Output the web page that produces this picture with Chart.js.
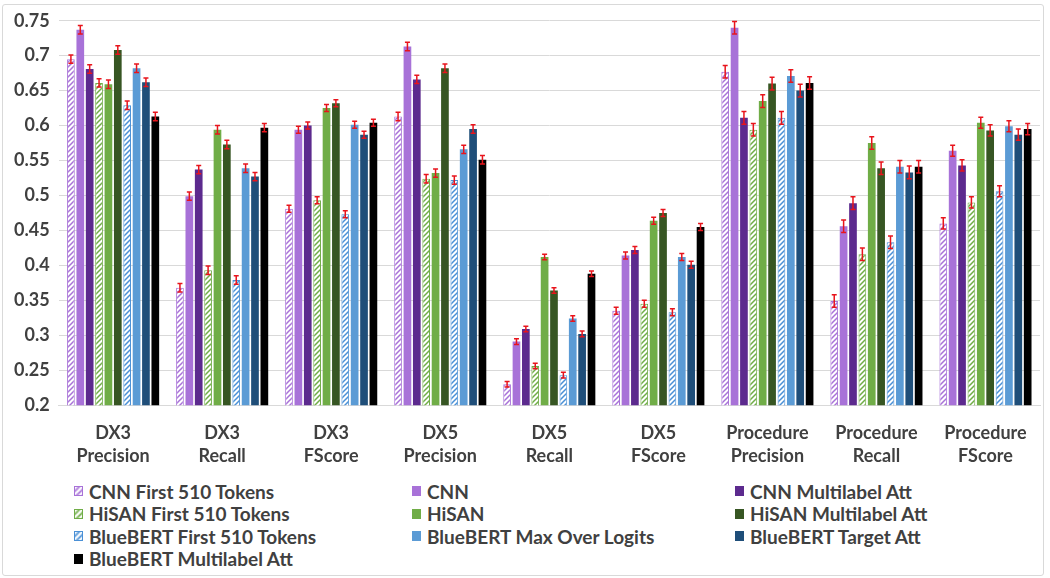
<!DOCTYPE html>
<html>
<head>
<meta charset="utf-8">
<script src="https://cdn.jsdelivr.net/npm/chart.js@4.4.0/dist/chart.umd.min.js"></script>
<style>
  body { margin: 0; background: #fff; }
  #wrap { position: relative; width: 1050px; height: 578px; }
  #frame { position: absolute; left: 2px; top: 4px; width: 1040px; height: 570px; border: 1px solid #d9d9d9; border-radius: 3px; }
  #chartbox { position: absolute; left: 0; top: 0; width: 1050px; height: 476px; }
  #legend { position: absolute; left: 74px; top: 480px; width: 960px;
    display: grid; grid-template-columns: 338px 323px 300px; row-gap: 0px;
    font-family: Lato, "Open Sans", sans-serif;
    font-weight: bold; font-size: 19px; color: #404040; }
  .item { display: flex; align-items: center; height: 22.5px; white-space: nowrap; }
  .box { width: 9px; height: 10px; margin-right: 6px; background-size: 6px 6px; }
</style>
</head>
<body>
<div id="wrap">
  <div id="frame"></div>
  <div id="chartbox"><canvas id="mychart"></canvas></div>
  <div id="legend"></div>
</div>
<script>
var categories = [['DX3','Precision'], ['DX3','Recall'], ['DX3','FScore'],
                  ['DX5','Precision'], ['DX5','Recall'], ['DX5','FScore'],
                  ['Procedure','Precision'], ['Procedure','Recall'], ['Procedure','FScore']];

var cnnFirst      = [0.695, 0.368, 0.481, 0.613, 0.230, 0.335, 0.677, 0.349, 0.460];
var cnn           = [0.737, 0.499, 0.594, 0.713, 0.291, 0.414, 0.740, 0.456, 0.564];
var cnnMulti      = [0.681, 0.537, 0.600, 0.666, 0.309, 0.422, 0.611, 0.489, 0.543];
var hisanFirst    = [0.661, 0.393, 0.493, 0.524, 0.256, 0.345, 0.594, 0.416, 0.490];
var hisan         = [0.659, 0.594, 0.625, 0.532, 0.412, 0.464, 0.635, 0.575, 0.604];
var hisanMulti    = [0.708, 0.573, 0.632, 0.682, 0.364, 0.475, 0.660, 0.539, 0.593];
var bertFirst     = [0.629, 0.379, 0.473, 0.522, 0.243, 0.333, 0.611, 0.433, 0.506];
var bertMax       = [0.682, 0.539, 0.601, 0.566, 0.324, 0.412, 0.671, 0.541, 0.599];
var bertTarget    = [0.662, 0.527, 0.587, 0.595, 0.302, 0.401, 0.650, 0.533, 0.587];
var bertMulti     = [0.613, 0.597, 0.604, 0.551, 0.388, 0.455, 0.661, 0.541, 0.595];

// half size of the red error bars, per category
var errorSize = [0.006, 0.006, 0.005, 0.006, 0.004, 0.005, 0.009, 0.009, 0.008];

var yTicks = { min: 0.2, max: 0.75, step: 0.05 };

function hatch(color) {
    var c = document.createElement('canvas');
    c.width = 5; c.height = 5;
    var g = c.getContext('2d');
    g.fillStyle = '#fff';
    g.fillRect(0, 0, 5, 5);
    g.strokeStyle = color;
    g.lineWidth = 1.5;
    g.beginPath();
    g.moveTo(-1, 6); g.lineTo(6, -1);
    g.moveTo(-3.5, 3.5); g.lineTo(3.5, -3.5);
    g.moveTo(1.5, 8.5); g.lineTo(8.5, 1.5);
    g.stroke();
    return c;
}

var series = [
    { label: 'CNN First 510 Tokens', data: cnnFirst, color: '#a872d8', hatched: true },
    { label: 'CNN', data: cnn, color: '#a872d8' },
    { label: 'CNN Multilabel Att', data: cnnMulti, color: '#5c2a8e' },
    { label: 'HiSAN First 510 Tokens', data: hisanFirst, color: '#70ad47', hatched: true },
    { label: 'HiSAN', data: hisan, color: '#70ad47' },
    { label: 'HiSAN Multilabel Att', data: hisanMulti, color: '#375623' },
    { label: 'BlueBERT First 510 Tokens', data: bertFirst, color: '#4a90d6', hatched: true },
    { label: 'BlueBERT Max Over Logits', data: bertMax, color: '#5b9bd5' },
    { label: 'BlueBERT Target Att', data: bertTarget, color: '#1f4e79' },
    { label: 'BlueBERT Multilabel Att', data: bertMulti, color: '#000000' }
];

var ctx = document.getElementById('mychart').getContext('2d');
var datasets = series.map(function (s) {
    var fill = s.hatched ? ctx.createPattern(hatch(s.color), 'repeat') : s.color;
    return {
        label: s.label,
        data: s.data,
        backgroundColor: fill,
        borderColor: s.color,
        borderWidth: s.hatched ? 1 : 0
    };
});

var errorBars = {
    id: 'errorBars',
    afterDatasetsDraw: function (chart) {
        var c = chart.ctx, y = chart.scales.y;
        c.save();
        c.strokeStyle = '#e8141c';
        c.lineWidth = 1.5;
        chart.data.datasets.forEach(function (ds, i) {
            var meta = chart.getDatasetMeta(i);
            meta.data.forEach(function (bar, j) {
                var v = ds.data[j], e = errorSize[j];
                var top = y.getPixelForValue(v + e), bot = y.getPixelForValue(v - e);
                c.beginPath();
                c.moveTo(bar.x, top); c.lineTo(bar.x, bot);
                c.moveTo(bar.x - 2.5, top); c.lineTo(bar.x + 2.5, top);
                c.moveTo(bar.x - 2.5, bot); c.lineTo(bar.x + 2.5, bot);
                c.stroke();
            });
        });
        c.restore();
    }
};

var font = { family: 'Lato, "Open Sans", sans-serif', size: 18, weight: 'bold', lineHeight: 1.3 };

var myChart = new Chart(ctx, {
    type: 'bar',
    data: { labels: categories, datasets: datasets },
    options: {
        responsive: true,
        maintainAspectRatio: false,
        animation: false,
        layout: { padding: { left: 5, right: 10, top: 8, bottom: 0 } },
        datasets: { bar: { categoryPercentage: 0.86, barPercentage: 0.82 } },
        plugins: { legend: { display: false }, tooltip: { enabled: false } },
        scales: {
            x: {
                grid: { display: false },
                border: { color: '#d9d9d9' },
                ticks: { color: '#404040', font: font, padding: 8, maxRotation: 0 }
            },
            y: {
                min: yTicks.min,
                max: yTicks.max,
                grid: { color: '#d9d9d9', drawTicks: false },
                border: { display: false },
                ticks: {
                    stepSize: yTicks.step, color: '#404040', font: font, padding: 9,
                    callback: function (v) { return String(parseFloat(v.toFixed(2))); }
                }
            }
        }
    },
    plugins: [errorBars]
});

// legend in three columns, filled row by row like the original
var legend = document.getElementById('legend');
series.forEach(function (s) {
    var item = document.createElement('div');
    item.className = 'item';
    var box = document.createElement('span');
    box.className = 'box';
    if (s.hatched) {
        box.style.backgroundImage = 'url(' + hatch(s.color).toDataURL() + ')';
        box.style.outline = '1px solid ' + s.color;
        box.style.outlineOffset = '-1px';
    } else {
        box.style.background = s.color;
    }
    item.appendChild(box);
    item.appendChild(document.createTextNode(s.label));
    legend.appendChild(item);
});
</script>
</body>
</html>
